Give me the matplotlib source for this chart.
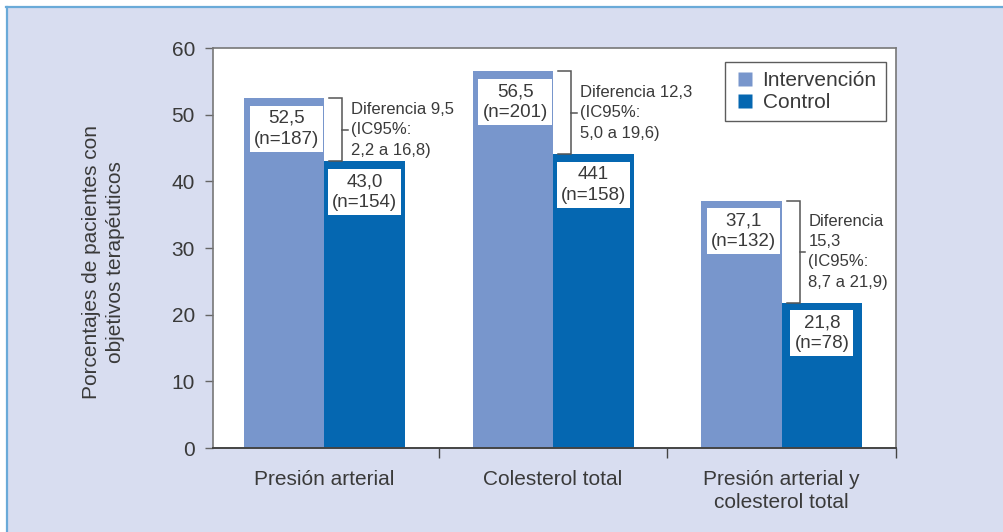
import matplotlib
matplotlib.use("Agg")
import matplotlib.pyplot as plt
from matplotlib.patches import Rectangle
from matplotlib.lines import Line2D

# ---- data ----
categories = ["Presión arterial", "Colesterol total", "Presión arterial y\ncolesterol total"]
intervencion = [52.5, 56.5, 37.1]
control = [43.0, 44.1, 21.8]
n_intervencion = [187, 201, 132]
n_control = [154, 158, 78]
label_intervencion = ["52,5", "56,5", "37,1"]
label_control = ["43,0", "441", "21,8"]
diferencias = ["Diferencia 9,5\n(IC95%:\n2,2 a 16,8)",
               "Diferencia 12,3\n(IC95%:\n5,0 a 19,6)",
               "Diferencia\n15,3\n(IC95%:\n8,7 a 21,9)"]
yticks = [0, 10, 20, 30, 40, 50, 60]
series_names = ["Intervención", "Control"]

# ---- style ----
FONT = ["Liberation Sans", "DejaVu Sans"]
plt.rcParams['font.family'] = FONT
TXT = "#3a3a3a"
C_INT = "#7896cc"
C_CTL = "#0567b1"
BG = "#d8ddf0"
BORDER = "#6aaad8"

W, H = 1004, 532
fig = plt.figure(figsize=(W / 100, H / 100), dpi=100, facecolor="white")

# panel background and border
fig.patches.append(Rectangle((7 / W, 0), 1 - 7 / W, 1 - 7 / H, transform=fig.transFigure,
                             facecolor=BG, edgecolor="none", zorder=-10))
fig.lines.append(Line2D([6 / W, 1], [1 - 6.5 / H, 1 - 6.5 / H], transform=fig.transFigure,
                        color=BORDER, lw=1.6, zorder=-5))
fig.lines.append(Line2D([6.5 / W, 6.5 / W], [0, 1 - 6.5 / H], transform=fig.transFigure,
                        color=BORDER, lw=1.6, zorder=-5))

ax = fig.add_axes([213 / W, 1 - 448 / H, (896 - 213) / W, 400 / H])
ax.set_facecolor("white")

x = list(range(len(categories)))
bw = 0.352
xi = [c - bw / 2 for c in x]
xc = [c + bw / 2 for c in x]
ax.bar(xi, intervencion, width=bw, color=C_INT, edgecolor="none", zorder=2, label=series_names[0])
ax.bar(xc, control, width=bw, color=C_CTL, edgecolor="none", zorder=2, label=series_names[1])

ax.set_xlim(-0.487, 2.5)
ax.set_ylim(0, 60)
ax.set_yticks(yticks)
ax.set_yticklabels([str(v) for v in yticks], fontsize=15, color=TXT)
ax.tick_params(axis="y", length=6, width=1, color="#666666", pad=7, direction="out")

ax.set_xticks(x)
ax.set_xticklabels(categories, fontsize=15, color=TXT, linespacing=1.25)
ax.tick_params(axis="x", which="major", length=0, pad=16)
ax.set_xticks([0.5, 1.5, 2.5], minor=True)
ax.tick_params(axis="x", which="minor", length=7, width=1, color="#444444", direction="out")

for side in ["left", "top", "right"]:
    ax.spines[side].set_color("#777777")
    ax.spines[side].set_linewidth(1.2)
ax.spines["bottom"].set_color("#444444")
ax.spines["bottom"].set_linewidth(1.4)

# value boxes
def box(xpos, val, top_label, n):
    ax.annotate(f"{top_label}\n(n={n})", xy=(xpos, val), xytext=(0, -8.5),
                textcoords="offset points", ha="center", va="top", fontsize=13.5,
                color=TXT, linespacing=1.3, zorder=5,
                bbox=dict(boxstyle="square,pad=0.22", facecolor="white", edgecolor="none"))

for i in range(len(categories)):
    box(xi[i] + 0.01, intervencion[i], label_intervencion[i], n_intervencion[i])
    box(xc[i], control[i], label_control[i], n_control[i])

# difference brackets
for i, c in enumerate(x):
    top, bot = intervencion[i], control[i]
    xv = c + 0.079
    ax.plot([c + 0.022, xv, xv, c + 0.022], [top, top, bot, bot], color="#555555", lw=1.1,
            zorder=4, solid_joinstyle="miter")
    mid = (top + bot) / 2
    ax.plot([xv, xv + 0.024], [mid, mid], color="#555555", lw=1.1, zorder=4)
    ax.text(c + 0.117, mid, diferencias[i], fontsize=12, color=TXT, ha="left", va="center",
            linespacing=1.45, zorder=5)

# legend
handles = [Line2D([], [], marker="s", linestyle="none", markersize=10.5, color=C_INT, markeredgecolor="none"),
           Line2D([], [], marker="s", linestyle="none", markersize=10.5, color=C_CTL, markeredgecolor="none")]
leg = ax.legend(handles, series_names, loc="upper right", bbox_to_anchor=(0.9854, 0.965),
                borderaxespad=0, fontsize=15, frameon=True, fancybox=False, handlelength=1.0,
                handletextpad=0.35, borderpad=0.45, labelspacing=0.12, labelcolor=TXT)
leg.get_frame().set_edgecolor("#333333")
leg.get_frame().set_linewidth(1.0)

# y label
fig.text(103.5 / W, 1 - 262 / H, "Porcentajes de pacientes con\nobjetivos terapéuticos",
         rotation=90, ha="center", va="center", ma="center", fontsize=15, color=TXT,
         linespacing=1.3)

fig.savefig("out.png", dpi=100, facecolor="white")
